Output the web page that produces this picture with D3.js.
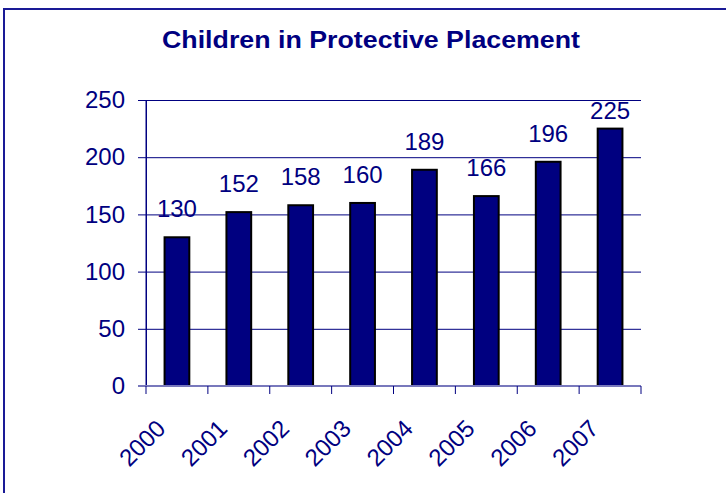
<!DOCTYPE html>
<html>
<head>
<meta charset="utf-8">
<style>
  body { margin: 0; background: #fff; }
  svg { display: block; font-family: Arial, "Liberation Sans", sans-serif; }
</style>
</head>
<body>
<svg width="726" height="493"></svg>
<script src="https://cdn.jsdelivr.net/npm/d3@7"></script>
<script>
// data
const years = ['2000', '2001', '2002', '2003', '2004', '2005', '2006', '2007'];
const counts = [130, 152, 158, 160, 189, 166, 196, 225];
const yTicks = [0, 50, 100, 150, 200, 250];

const navy = '#000080';
const fontFamily = 'Arial, "Liberation Sans", sans-serif';
const svg = d3.select('svg');

// outer frame (only left and top edges show in the picture)
svg.append('rect')
  .attr('x', 4).attr('y', 9)
  .attr('width', 740).attr('height', 500)
  .attr('fill', 'none')
  .attr('stroke', '#1a1a96')
  .attr('stroke-width', 2);

svg.append('text')
  .attr('x', 371).attr('y', 48)
  .attr('text-anchor', 'middle')
  .attr('font-size', 24).attr('font-weight', 'bold')
  .attr('textLength', 418).attr('lengthAdjust', 'spacingAndGlyphs')
  .attr('fill', navy)
  .text('Children in Protective Placement');

const margin = {top: 100, left: 146, right: 85, bottom: 107};
const width = 726 - margin.left - margin.right;
const height = 493 - margin.top - margin.bottom;

const x = d3.scaleBand().domain(years).range([0, width]).paddingInner(0.6).paddingOuter(0.3);
const y = d3.scaleLinear().domain([0, 250]).range([height, 0]);

const g = svg.append('g').attr('transform', `translate(${margin.left},${margin.top})`);

// gridlines + y axis
const yAxis = g.append('g')
  .call(d3.axisLeft(y).tickValues(yTicks).tickSize(-width).tickSizeOuter(0).tickPadding(21));
yAxis.select('.domain').attr('stroke', navy);
yAxis.selectAll('.tick line').attr('stroke', navy).attr('x1', -8);
yAxis.selectAll('.tick text')
  .attr('fill', navy).attr('font-size', 24).attr('font-family', fontFamily);
g.append('line')
  .attr('x1', 0).attr('x2', 0).attr('y1', 0).attr('y2', height)
  .attr('stroke', navy);

// bars
g.selectAll('.bar')
  .data(counts).enter()
  .append('rect')
  .attr('x', (d, i) => x(years[i]))
  .attr('y', d => y(d))
  .attr('width', x.bandwidth())
  .attr('height', d => height - y(d))
  .attr('fill', navy)
  .attr('stroke', '#000')
  .attr('stroke-width', 2);

// value labels (kept inside the plot top)
g.selectAll('.val')
  .data(counts).enter()
  .append('text')
  .attr('x', (d, i) => x(years[i]) + x.bandwidth() / 2)
  .attr('y', d => Math.max(y(d) - 20, 19))
  .attr('text-anchor', 'middle')
  .attr('font-size', 24)
  .attr('fill', navy)
  .text(d => d);

// x axis with ticks at category boundaries
const step = x.step();
const xAxisG = g.append('g').attr('transform', `translate(0,${height})`);
xAxisG.append('line')
  .attr('x1', -8).attr('x2', width)
  .attr('stroke', '#7878bc').attr('stroke-width', 2);
xAxisG.selectAll('.tk')
  .data(d3.range(years.length + 1)).enter()
  .append('line')
  .attr('x1', i => i * step).attr('x2', i => i * step)
  .attr('y1', 0).attr('y2', 8)
  .attr('stroke', navy);
xAxisG.selectAll('.lbl')
  .data(years).enter()
  .append('text')
  .attr('transform', d => `translate(${x(d) + x.bandwidth() / 2 - 10},${44}) rotate(-45)`)
  .attr('text-anchor', 'end')
  .attr('font-size', 24)
  .attr('fill', navy)
  .text(d => d);
</script>
</body>
</html>
